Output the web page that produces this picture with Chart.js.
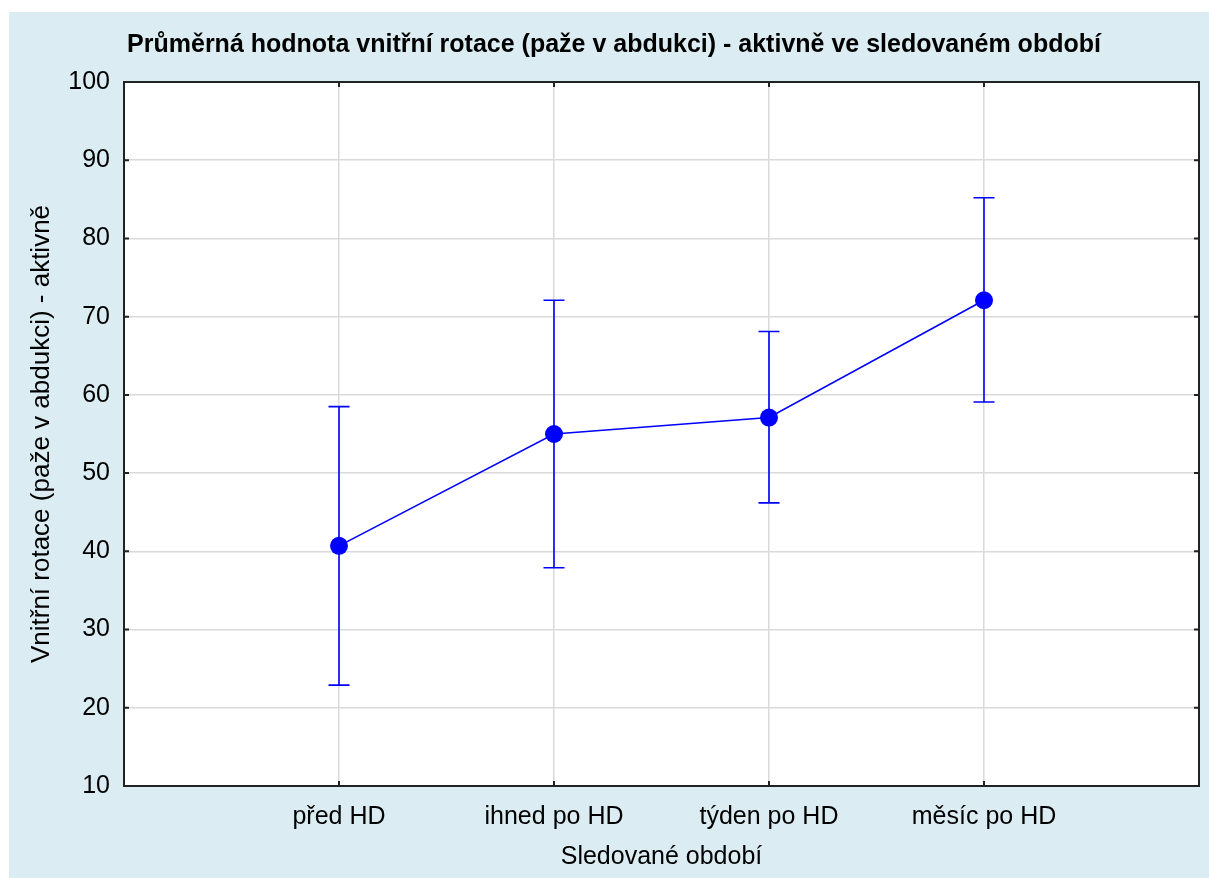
<!DOCTYPE html>
<html>
<head>
<meta charset="utf-8">
<script src="https://cdn.jsdelivr.net/npm/chart.js@4"></script>
<style>
  html, body { margin: 0; padding: 0; background: #ffffff; }
  canvas { display: block; }
</style>
</head>
<body>
<canvas id="c" width="1209" height="878"></canvas>
<script>
const categories = ["před HD", "ihned po HD", "týden po HD", "měsíc po HD"];
const means = [40.7, 55.0, 57.1, 72.1];
const lower = [22.9, 37.9, 46.2, 59.1];
const upper = [58.5, 72.1, 68.1, 85.2];
const yTicks = [10, 20, 30, 40, 50, 60, 70, 80, 90, 100];

const titleText = "Průměrná hodnota vnitřní rotace (paže v abdukci) - aktivně ve sledovaném období";
const xTitle = "Sledované období";
const yTitle = "Vnitřní rotace (paže v abdukci) - aktivně";

const BLUE = "#0000ff";
const FONT = "'Liberation Sans', Arial, sans-serif";

const points = means.map((m, i) => ({ x: i + 1, y: m }));

const panelPlugin = {
  id: "panel",
  beforeDraw(chart) {
    const { ctx, chartArea: a } = chart;
    ctx.save();
    ctx.fillStyle = "#ffffff";
    ctx.fillRect(0, 0, chart.width, chart.height);
    ctx.fillStyle = "#dbedf3";
    ctx.fillRect(9, 12, chart.width - 9, chart.height - 12);
    ctx.fillStyle = "#ffffff";
    ctx.fillRect(a.left, a.top, a.right - a.left, a.bottom - a.top);
    ctx.restore();
  },
  afterDraw(chart) {
    const { ctx, chartArea: a, scales } = chart;
    ctx.save();
    ctx.strokeStyle = "#222222";
    ctx.lineWidth = 2;
    ctx.strokeRect(a.left, a.top, a.right - a.left, a.bottom - a.top);
    // inward tick marks
    ctx.lineWidth = 2;
    ctx.beginPath();
    yTicks.forEach(v => {
      const y = scales.y.getPixelForValue(v);
      ctx.moveTo(a.left, y); ctx.lineTo(a.left + 5, y);
      ctx.moveTo(a.right, y); ctx.lineTo(a.right - 5, y);
    });
    categories.forEach((c, i) => {
      const x = scales.x.getPixelForValue(i + 1);
      ctx.moveTo(x, a.bottom); ctx.lineTo(x, a.bottom - 5);
      ctx.moveTo(x, a.top); ctx.lineTo(x, a.top + 5);
    });
    ctx.stroke();
    ctx.restore();
  }
};

const errorBarPlugin = {
  id: "errorBars",
  beforeDatasetsDraw(chart) {
    const { ctx, scales } = chart;
    ctx.save();
    ctx.strokeStyle = BLUE;
    ctx.lineWidth = 1.6;
    ctx.beginPath();
    means.forEach((m, i) => {
      const x = scales.x.getPixelForValue(i + 1);
      const yl = scales.y.getPixelForValue(lower[i]);
      const yu = scales.y.getPixelForValue(upper[i]);
      ctx.moveTo(x, yl); ctx.lineTo(x, yu);
      ctx.moveTo(x - 10.5, yl); ctx.lineTo(x + 10.5, yl);
      ctx.moveTo(x - 10.5, yu); ctx.lineTo(x + 10.5, yu);
    });
    ctx.stroke();
    ctx.restore();
  }
};

new Chart(document.getElementById("c"), {
  type: "line",
  data: {
    datasets: [{
      data: points,
      borderColor: BLUE,
      borderWidth: 1.6,
      backgroundColor: BLUE,
      pointBackgroundColor: BLUE,
      pointBorderColor: BLUE,
      pointRadius: 9,
      pointBorderWidth: 0,
      tension: 0,
      fill: false
    }]
  },
  options: {
    responsive: false,
    animation: false,
    devicePixelRatio: 1,
    layout: { padding: { left: 29, top: 12, right: 10, bottom: 0 } },
    plugins: {
      legend: { display: false },
      tooltip: { enabled: false },
      title: {
        display: true,
        text: titleText,
        color: "#000000",
        font: { family: FONT, size: 25, weight: "bold", lineHeight: 1.2 },
        padding: { top: 18, bottom: 22 }
      }
    },
    scales: {
      x: {
        type: "linear",
        min: 0,
        max: 5,
        afterBuildTicks(scale) {
          scale.ticks = categories.map((c, i) => ({ value: i + 1 }));
        },
        afterFit(scale) { scale.height = 92; },
        border: { display: false },
        grid: { color: "#dadada", lineWidth: 1.5, drawTicks: false },
        ticks: {
          autoSkip: false,
          maxRotation: 0,
          padding: 16,
          color: "#000000",
          font: { family: FONT, size: 25 },
          callback: (v) => categories[v - 1] ?? ""
        },
        title: {
          display: true,
          text: xTitle,
          color: "#000000",
          font: { family: FONT, size: 25, lineHeight: 1.2 },
          padding: { top: 0, bottom: 6 }
        }
      },
      y: {
        type: "linear",
        min: 10,
        max: 100,
        afterBuildTicks(scale) {
          scale.ticks = yTicks.map(v => ({ value: v }));
        },
        afterFit(scale) { scale.width = 95; },
        border: { display: false },
        grid: { color: "#dadada", lineWidth: 1.5, drawTicks: false },
        ticks: {
          padding: 14,
          color: "#000000",
          font: { family: FONT, size: 25 }
        },
        title: {
          display: true,
          text: yTitle,
          color: "#000000",
          font: { family: FONT, size: 26, lineHeight: 1.0 },
          padding: { top: 0, bottom: 0 }
        }
      }
    }
  },
  plugins: [panelPlugin, errorBarPlugin]
});
</script>
</body>
</html>
